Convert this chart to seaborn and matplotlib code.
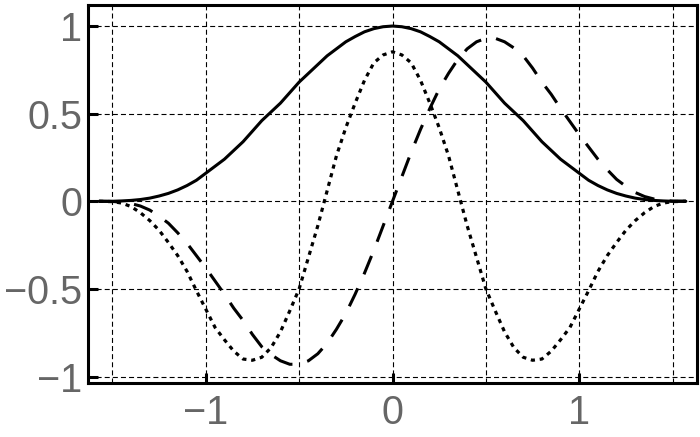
import matplotlib
matplotlib.use("Agg")
import matplotlib.pyplot as plt
import numpy as np
import pandas as pd
import seaborn as sns

# ---- data ----
x_vals = [-1.5708, -1.5, -1.45, -1.4, -1.35, -1.3, -1.25, -1.2, -1.15, -1.1, -1.05,
          -1.0, -0.95, -0.9, -0.85, -0.8, -0.75, -0.7, -0.65, -0.6, -0.55,
          -0.5, -0.45, -0.4, -0.35, -0.3, -0.25, -0.2, -0.15, -0.1, -0.05,
          0.0,
          0.05, 0.1, 0.15, 0.2, 0.25, 0.3, 0.35, 0.4, 0.45, 0.5,
          0.55, 0.6, 0.65, 0.7, 0.75, 0.8, 0.85, 0.9, 0.95, 1.0,
          1.05, 1.1, 1.15, 1.2, 1.25, 1.3, 1.35, 1.4, 1.45, 1.5, 1.5708]

solid_vals = [0.0, 0.0, 0.002, 0.005, 0.01, 0.018, 0.03, 0.045, 0.065, 0.09, 0.12,
              0.16, 0.20, 0.24, 0.29, 0.34, 0.40, 0.46, 0.51, 0.56, 0.62,
              0.68, 0.73, 0.78, 0.83, 0.87, 0.91, 0.94, 0.967, 0.985, 0.996,
              1.0,
              0.996, 0.985, 0.967, 0.94, 0.91, 0.87, 0.83, 0.78, 0.73, 0.68,
              0.62, 0.56, 0.51, 0.46, 0.40, 0.34, 0.29, 0.24, 0.20, 0.16,
              0.12, 0.09, 0.065, 0.045, 0.03, 0.018, 0.01, 0.005, 0.002, 0.0, 0.0]

dashed_vals = [0.0, -0.001, -0.005, -0.013, -0.027, -0.05, -0.085, -0.125, -0.18, -0.24, -0.31,
               -0.38, -0.455, -0.53, -0.61, -0.68, -0.76, -0.83, -0.875, -0.91, -0.93,
               -0.93, -0.91, -0.87, -0.81, -0.73, -0.64, -0.53, -0.41, -0.28, -0.14,
               0.0,
               0.14, 0.28, 0.41, 0.53, 0.64, 0.73, 0.81, 0.87, 0.91, 0.93,
               0.93, 0.91, 0.875, 0.83, 0.76, 0.68, 0.61, 0.53, 0.455, 0.38,
               0.31, 0.24, 0.18, 0.125, 0.085, 0.05, 0.027, 0.013, 0.005, 0.001, 0.0]

dotted_vals = [0.0, -0.002, -0.01, -0.03, -0.065, -0.11, -0.165, -0.235, -0.31, -0.40, -0.51,
               -0.615, -0.72, -0.79, -0.855, -0.90, -0.907, -0.89, -0.835, -0.745, -0.625,
               -0.50, -0.32, -0.14, 0.06, 0.26, 0.42, 0.56, 0.69, 0.79, 0.835,
               0.853,
               0.835, 0.79, 0.69, 0.56, 0.42, 0.26, 0.06, -0.14, -0.32, -0.50,
               -0.625, -0.745, -0.835, -0.89, -0.907, -0.90, -0.855, -0.79, -0.72, -0.615,
               -0.51, -0.40, -0.31, -0.235, -0.165, -0.11, -0.065, -0.03, -0.01, -0.002, 0.0]

x_ticks = [-1, 0, 1]
x_tick_labels = ["\u22121", "0", "1"]
x_minor = [-1.5, -0.5, 0.5, 1.5]
y_ticks = [-1, -0.5, 0, 0.5, 1]
y_tick_labels = ["\u22121", "\u22120.5", "0", "0.5", "1"]

df = pd.DataFrame({"x": x_vals, "solid": solid_vals,
                   "dashed": dashed_vals, "dotted": dotted_vals})

sns.set_style("white")
plt.rcParams['font.family'] = ['Liberation Sans', 'DejaVu Sans']

fig = plt.figure(figsize=(7, 4.37), dpi=100)
ax = fig.add_axes([87.7 / 700, (437 - 382.5) / 437, 609.6 / 700, 377.5 / 437])

sns.lineplot(data=df, x="x", y="solid", ax=ax, color="black", linewidth=2.2,
             estimator=None, sort=False, zorder=3)
sns.lineplot(data=df, x="x", y="dashed", ax=ax, color="black", linewidth=2.2,
             linestyle=(0, (6.5, 5.0)), dash_capstyle="butt",
             estimator=None, sort=False, zorder=3)
sns.lineplot(data=df, x="x", y="dotted", ax=ax, color="black", linewidth=2.3,
             linestyle=(0, (1.3, 1.5)), dash_capstyle="butt",
             estimator=None, sort=False, zorder=3)

ax.set_xlim(-1.632, 1.632)
ax.set_ylim(-1.034, 1.12)

ax.set_xticks(x_ticks)
ax.set_xticklabels(x_tick_labels)
ax.set_xticks(x_minor, minor=True)
ax.set_yticks(y_ticks)
ax.set_yticklabels(y_tick_labels)

ax.set_xlabel("")
ax.set_ylabel("")

ax.grid(True, which="both", color="black", linewidth=0.8,
        linestyle=(0, (4.5, 2.8)), zorder=1)
ax.set_axisbelow(True)

ax.tick_params(axis="both", which="major", direction="in", length=7.5, width=2.2,
               color="black", labelcolor="#666666", labelsize=28.5,
               top=False, right=False, bottom=True, left=True)
ax.tick_params(axis="x", which="major", pad=8.5)
ax.tick_params(axis="y", which="major", pad=4)
ax.tick_params(which="minor", length=0)

for sp in ax.spines.values():
    sp.set_visible(True)
    sp.set_color("black")
    sp.set_linewidth(2.2)

fig.savefig("out.png", dpi=100)
